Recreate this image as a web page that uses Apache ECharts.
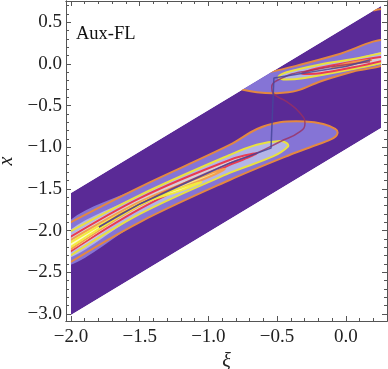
<!DOCTYPE html>
<html>
<head>
<meta charset="utf-8">
<style>
  html, body { margin: 0; padding: 0; background: #fff; }
  #main { width: 388px; height: 369px; }
</style>
<script src="https://cdn.jsdelivr.net/npm/echarts@6/dist/echarts.min.js"></script>
</head>
<body>
<div id="main"></div>
<script>
  // tick marks
  var xiMajor = [-2, -1.5, -1, -0.5, 0];
  var xiMinor = [-1.9, -1.8, -1.7, -1.6, -1.4, -1.3, -1.2, -1.1, -0.9, -0.8, -0.7, -0.6, -0.4, -0.3, -0.2, -0.1, 0.1, 0.2];
  var xMajor = [-3, -2.5, -2, -1.5, -1, -0.5, 0, 0.5];
  var xMinor = [-2.9, -2.8, -2.7, -2.6, -2.4, -2.3, -2.2, -2.1, -1.9, -1.8, -1.7, -1.6, -1.4, -1.3, -1.2, -1.1,
    -0.9, -0.8, -0.7, -0.6, -0.4, -0.3, -0.2, -0.1, 0.1, 0.2, 0.3, 0.4, 0.6, 0.7];

  // region where the function is plotted
  var strip = [[-2, -1.549], [0.257, 0.696], [0.257, -0.768], [-2, -3.013]];

  // contours of the lower lobe, open at the left edge of the strip
  var lowerOrange = [[-2.05, -1.94], [-1.498, -1.477], [-0.845, -0.972], [-0.646, -0.78],
    [-0.48, -0.70], [-0.296, -0.69], [-0.164, -0.72], [-0.077, -0.78], [-0.06, -0.83], [-0.09, -0.89], [-0.21, -0.97],
    [-0.405, -1.09], [-0.845, -1.393], [-1.498, -1.897], [-2.05, -2.425]];
  var lowerYellow = [[-2.05, -2.05], [-1.498, -1.573], [-0.845, -1.092], [-0.648, -0.97], [-0.478, -0.925],
    [-0.43, -0.95], [-0.42, -0.99], [-0.53, -1.11], [-0.845, -1.308], [-1.498, -1.80], [-2.05, -2.35]];
  var lowerRed = [[-2.05, -2.12], [-1.498, -1.609], [-0.845, -1.152], [-0.65, -1.072], [-0.75, -1.15], [-0.845, -1.212],
    [-1.498, -1.74], [-2.05, -2.30]];
  var lowerInnerOrange = [[-2.05, -2.16], [-1.498, -1.653], [-1.0, -1.32], [-0.88, -1.26], [-1.0, -1.36], [-1.498, -1.70],
    [-2.05, -2.28]];
  var lowerInnerYellow = [[-2.05, -2.19], [-1.498, -1.675], [-1.2, -1.49], [-1.05, -1.42], [-1.2, -1.52], [-1.498, -1.69],
    [-2.05, -2.25]];

  // contours of the upper lobe, open at the right edge
  var upperOrange = [[-0.80, -0.28], [-0.748, -0.31], [-0.648, -0.34], [-0.502, -0.35], [-0.356, -0.32], [-0.186, -0.21],
    [0.055, -0.09], [0.30, 0.02], [0.30, 0.29], [-0.064, 0.11], [-0.332, -0.01], [-0.539, -0.09], [-0.60, -0.09]];
  var upperYellow = [[0.30, 0.03], [0.055, -0.06], [-0.31, -0.17], [-0.456, -0.185], [-0.49, -0.155], [-0.43, -0.10],
    [-0.186, -0.005], [0.055, 0.06], [0.30, 0.145]];
  var upperRed = [[0.30, 0.05], [0.055, -0.04], [-0.186, -0.11], [-0.32, -0.115], [-0.186, -0.045], [0.055, 0.03], [0.30, 0.095]];
  var upperInnerOrange = [[0.19, 0.05], [0.05, -0.005], [-0.10, -0.045], [0.05, 0.02], [0.19, 0.05]];
  var cornerOrange = [[0.20, 0.64], [0.23, 0.655], [0.30, 0.665]];

  // the two paths on top
  var stepPath = [[-1.796, -1.957], [-1.498, -1.68], [-0.845, -1.19], [-0.544, -1.01], [-0.523, -0.168], [-0.31, -0.11], [0.0, -0.03], [0.18, 0.05]];
  var sCurve = [[-1.796, -1.957], [-1.498, -1.68], [-0.845, -1.19], [-0.646, -1.068], [-0.479, -0.933], [-0.333, -0.813],
    [-0.297, -0.712], [-0.333, -0.588], [-0.43, -0.453], [-0.53, -0.348], [-0.539, -0.28], [-0.493, -0.192], [-0.311, -0.092], [0.176, 0.028]];

  var orange = '#e48840';
  var yellow = '#e9e23e';
  var red = '#e93b52';

  // polygon, line colour, fill colour
  var bands = [
    [strip, null, '#5a2a96'],
    [lowerOrange, orange, '#8574d6'],
    [lowerYellow, yellow, '#b3b5e8'],
    [lowerRed, red, '#d8cfd8'],
    [lowerInnerOrange, '#f2a050', '#f7e38c'],
    [lowerInnerYellow, '#f2ea40', '#fdfbc8'],
    [upperOrange, orange, '#8574d6'],
    [upperYellow, yellow, '#b3b5e8'],
    [upperRed, red, '#d8cfd8'],
    [upperInnerOrange, '#f2904a', '#f6a860'],
    [cornerOrange, orange, '#8574d6']
  ];

  function renderBand(params, api) {
    var band = bands[params.dataIndex];
    var pts = band[0].map(function (p) { return api.coord(p); });
    var clip = strip.map(function (p) { return api.coord(p); });
    var children = [];
    if (band[1] == null) {
      children.push({ type: 'polygon', shape: { points: pts }, style: { fill: band[2] } });
    } else {
      children.push({ type: 'polygon', shape: { points: pts, smooth: 0.35 }, style: { fill: band[2] } });
      children.push({
        type: 'polyline',
        shape: { points: pts, smooth: 0.35 },
        style: { fill: null, stroke: band[1], lineWidth: 2 }
      });
    }
    return {
      type: 'group',
      clipPath: { type: 'polygon', shape: { points: clip } },
      children: children
    };
  }

  function fmt(v) {
    return v.toFixed(1).replace('-', '\u2212');
  }

  var frame = { show: true, onZero: false, lineStyle: { color: '#555', width: 1 } };
  var labelFont = { fontFamily: 'Liberation Serif', fontSize: 19, color: '#222' };

  function xiAxis(position, ticks, len, labels) {
    return {
      type: 'value', position: position, min: -2.036, max: 0.3, splitLine: { show: false },
      axisLine: frame,
      axisTick: { show: true, inside: true, length: len, customValues: ticks, lineStyle: { color: '#555' } },
      axisLabel: labels ? Object.assign({ show: true, customValues: ticks, formatter: fmt, margin: 7 }, labelFont) : { show: false }
    };
  }
  function xAxisOf(position, ticks, len, labels) {
    return {
      type: 'value', position: position, min: -3.085, max: 0.756, splitLine: { show: false },
      axisLine: frame,
      axisTick: { show: true, inside: true, length: len, customValues: ticks, lineStyle: { color: '#555' } },
      axisLabel: labels ? Object.assign({ show: true, customValues: ticks, formatter: fmt, margin: 4 }, labelFont) : { show: false }
    };
  }

  var xaxes = [
    xiAxis('bottom', xiMajor, 5, true),
    xiAxis('bottom', xiMinor, 3, false),
    xiAxis('top', xiMajor, 5, false),
    xiAxis('top', xiMinor, 3, false)
  ];
  xaxes[0].name = '\u03be';
  xaxes[0].nameLocation = 'middle';
  xaxes[0].nameGap = 30;
  xaxes[0].nameTextStyle = { fontFamily: 'Liberation Serif', fontStyle: 'italic', fontSize: 20, color: '#222' };

  var yaxes = [
    xAxisOf('left', xMajor, 5, true),
    xAxisOf('left', xMinor, 3, false),
    xAxisOf('right', xMajor, 5, false),
    xAxisOf('right', xMinor, 3, false)
  ];
  yaxes[0].name = 'x';
  yaxes[0].nameLocation = 'middle';
  yaxes[0].nameGap = 46;
  yaxes[0].nameTextStyle = { fontFamily: 'Liberation Serif', fontStyle: 'italic', fontSize: 20, color: '#222' };

  var myChart = echarts.init(document.getElementById('main'));
  myChart.setOption({
    animation: false,
    backgroundColor: '#fff',
    grid: { left: 66, right: 1, top: 1, bottom: 48, outerBoundsMode: 'none' },
    title: {
      text: 'Aux-FL', left: 71, top: 20,
      textStyle: { fontFamily: 'Liberation Serif', fontWeight: 'normal', fontSize: 18.5, color: '#111' }
    },
    xAxis: xaxes,
    yAxis: yaxes,
    series: [
      {
        type: 'custom', xAxisIndex: 0, yAxisIndex: 0, clip: true,
        renderItem: renderBand,
        data: bands.map(function (b, i) { return [i]; })
      },
      {
        type: 'line', xAxisIndex: 0, yAxisIndex: 0, data: sCurve, showSymbol: false, smooth: 0.5,
        lineStyle: { color: '#9a3060', width: 1.5, opacity: 0.8 }
      },
      {
        type: 'line', xAxisIndex: 0, yAxisIndex: 0, data: stepPath, showSymbol: false,
        lineStyle: { color: '#45479a', width: 1.5, opacity: 0.85 }
      }
    ]
  });
</script>
</body>
</html>
